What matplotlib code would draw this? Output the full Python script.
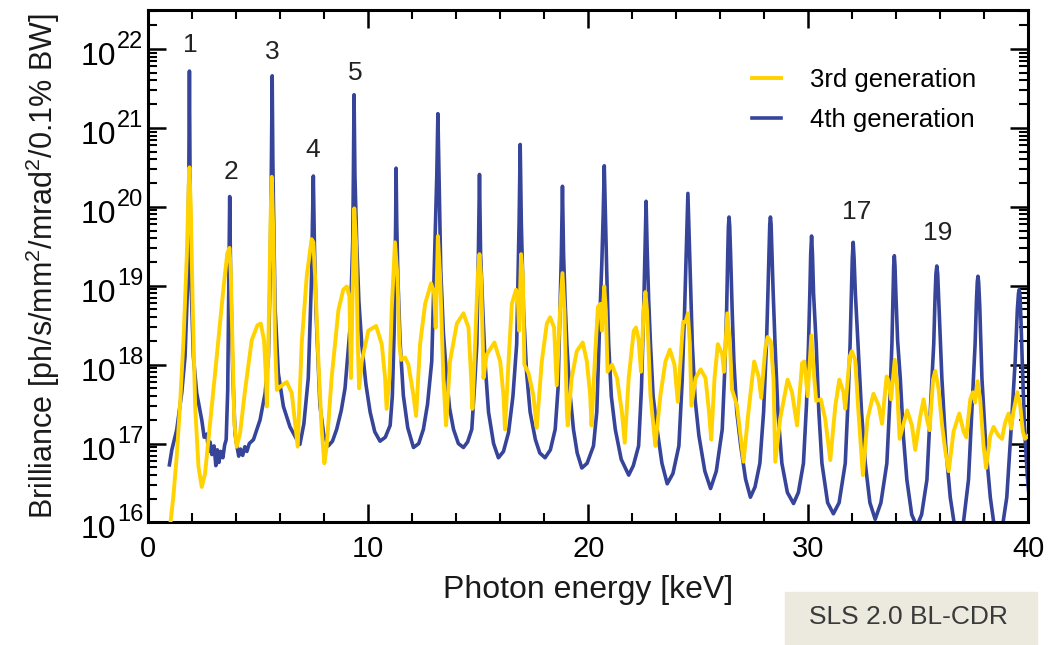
import numpy as np
import matplotlib
matplotlib.use('Agg')
import matplotlib.pyplot as plt
from matplotlib.ticker import MultipleLocator, LogLocator, NullFormatter
from matplotlib.patches import Rectangle
from matplotlib.transforms import blended_transform_factory, offset_copy

# (photon energy in keV, log10 of brilliance)
gen4_points = [
    (0.97, 16.73), (1.08, 16.92), (1.30, 17.17), (1.53, 17.64), (1.68, 18.10), (1.79, 18.95),
    (1.85, 20.30), (1.88, 21.72), (1.91, 20.30), (1.94, 19.16), (2.06, 18.10), (2.21, 17.64),
    (2.44, 17.30), (2.55, 17.08), (2.67, 17.12), (2.75, 16.90), (2.82, 17.02), (2.90, 16.86),
    (3.00, 16.97), (3.08, 16.72), (3.15, 16.92), (3.22, 16.76), (3.30, 16.90), (3.40, 16.82),
    (3.48, 16.98), (3.55, 17.05), (3.62, 17.68), (3.67, 19.00), (3.71, 20.13), (3.75, 19.16),
    (3.85, 17.89), (3.95, 17.13), (4.05, 16.95), (4.12, 16.84), (4.20, 16.93), (4.30, 16.85),
    (4.40, 16.96), (4.49, 16.90), (4.60, 17.00), (4.79, 17.05), (5.09, 17.30), (5.32, 17.64),
    (5.47, 18.10), (5.55, 19.16), (5.60, 20.40), (5.64, 21.66), (5.67, 20.60), (5.70, 20.00),
    (5.77, 18.73), (5.92, 17.89), (6.15, 17.47), (6.45, 17.21), (6.76, 17.05), (6.90, 16.99),
    (7.08, 17.25), (7.28, 17.83), (7.43, 19.12), (7.47, 19.80), (7.51, 20.39), (7.56, 19.50),
    (7.63, 18.69), (7.81, 17.48), (7.98, 17.12), (8.19, 16.97), (8.38, 17.03), (8.57, 17.18),
    (8.78, 17.42), (8.95, 17.70), (9.18, 18.47), (9.30, 19.55), (9.33, 20.40), (9.36, 21.42),
    (9.40, 20.40), (9.48, 19.55), (9.58, 18.80), (9.71, 18.26), (9.90, 17.75), (10.09, 17.40),
    (10.30, 17.15), (10.54, 17.03), (10.78, 17.08), (11.00, 17.23), (11.10, 17.60), (11.18, 18.40),
    (11.22, 19.12), (11.25, 19.80), (11.27, 20.49), (11.30, 19.80), (11.35, 19.12), (11.45, 18.30),
    (11.60, 17.61), (11.80, 17.20), (12.06, 16.95), (12.30, 17.00), (12.51, 17.18), (12.70, 17.50),
    (12.89, 18.04), (13.04, 19.55), (13.12, 20.40), (13.17, 21.18), (13.22, 20.40), (13.30, 19.20),
    (13.42, 18.40), (13.57, 17.83), (13.70, 17.45), (13.88, 17.18), (14.10, 17.00), (14.33, 16.95),
    (14.52, 17.02), (14.71, 17.18), (14.85, 17.80), (14.94, 18.26), (15.01, 19.40), (15.06, 20.41),
    (15.11, 19.40), (15.21, 18.69), (15.32, 18.00), (15.47, 17.40), (15.70, 17.00), (15.92, 16.82),
    (16.15, 16.90), (16.38, 17.14), (16.58, 17.60), (16.75, 18.26), (16.86, 19.80), (16.91, 20.79),
    (16.96, 19.80), (17.06, 18.69), (17.20, 17.90), (17.36, 17.40), (17.60, 17.05), (17.80, 16.88),
    (18.04, 16.82), (18.28, 16.92), (18.50, 17.18), (18.63, 17.70), (18.72, 18.69), (18.78, 19.40),
    (18.83, 20.26), (18.88, 19.40), (18.95, 18.80), (19.03, 18.26), (19.15, 17.70), (19.33, 17.18),
    (19.50, 16.88), (19.71, 16.69), (19.95, 16.75), (20.24, 16.97), (20.39, 17.40), (20.54, 18.69),
    (20.62, 19.30), (20.68, 19.90), (20.73, 20.52), (20.78, 19.90), (20.84, 19.20), (20.93, 18.26),
    (21.05, 17.60), (21.23, 17.18), (21.50, 16.80), (21.84, 16.60), (22.05, 16.72), (22.29, 16.97),
    (22.42, 17.70), (22.52, 18.69), (22.58, 19.45), (22.63, 20.07), (22.68, 19.45), (22.75, 18.80),
    (22.83, 18.26), (22.95, 17.60), (23.13, 17.18), (23.35, 16.75), (23.59, 16.49), (23.85, 16.62),
    (24.12, 16.97), (24.27, 17.80), (24.38, 18.69), (24.46, 19.50), (24.53, 20.17), (24.60, 19.50),
    (24.66, 18.90), (24.73, 18.26), (24.86, 17.55), (25.03, 17.10), (25.30, 16.65), (25.56, 16.43),
    (25.82, 16.65), (26.09, 17.18), (26.20, 17.90), (26.29, 18.69), (26.34, 19.40), (26.37, 19.75),
    (26.40, 19.87), (26.43, 19.75), (26.47, 19.40), (26.54, 18.70), (26.62, 18.04), (26.75, 17.40),
    (26.93, 16.97), (27.15, 16.55), (27.37, 16.32), (27.58, 16.45), (27.80, 16.75), (27.97, 17.40),
    (28.10, 18.26), (28.17, 18.95), (28.22, 19.50), (28.25, 19.78), (28.28, 19.87), (28.31, 19.78),
    (28.34, 19.50), (28.40, 18.95), (28.49, 18.26), (28.62, 17.40), (28.80, 16.75), (29.05, 16.38),
    (29.33, 16.24), (29.55, 16.38), (29.78, 16.75), (29.92, 17.50), (30.01, 18.26), (30.07, 18.90),
    (30.11, 19.40), (30.15, 19.63), (30.19, 19.40), (30.24, 18.90), (30.36, 18.26), (30.48, 17.40),
    (30.62, 16.75), (30.88, 16.25), (31.14, 16.11), (31.40, 16.25), (31.68, 16.75), (31.80, 17.50),
    (31.90, 18.26), (31.96, 18.90), (32.00, 19.35), (32.04, 19.55), (32.08, 19.35), (32.14, 18.90),
    (32.26, 18.26), (32.42, 17.40), (32.59, 16.75), (32.80, 16.25), (33.04, 16.04), (33.30, 16.25),
    (33.57, 16.75), (33.70, 17.50), (33.80, 18.26), (33.85, 18.90), (33.88, 19.25), (33.91, 19.38),
    (33.94, 19.25), (33.98, 18.90), (34.06, 18.30), (34.18, 17.83), (34.32, 17.10), (34.48, 16.54),
    (34.70, 16.10), (34.93, 15.95), (35.15, 16.10), (35.39, 16.54), (35.56, 17.50), (35.70, 18.26),
    (35.76, 18.85), (35.80, 19.15), (35.84, 19.25), (35.88, 19.15), (35.93, 18.80), (36.07, 17.83),
    (36.25, 16.95), (36.45, 16.32), (36.65, 15.95), (36.83, 15.85), (37.05, 16.00), (37.28, 16.54),
    (37.45, 17.50), (37.58, 18.26), (37.64, 18.80), (37.68, 19.05), (37.71, 19.12), (37.74, 19.05),
    (37.79, 18.75), (37.89, 17.83), (38.07, 16.95), (38.27, 16.32), (38.45, 15.95), (38.65, 15.85),
    (38.85, 16.00), (39.02, 16.32), (39.22, 17.20), (39.40, 18.04), (39.50, 18.70), (39.55, 18.90),
    (39.58, 18.95), (39.62, 18.88), (39.66, 18.60), (39.72, 18.06), (39.82, 17.23), (39.95, 16.60),
    (40.10, 16.10),
]

gen3_points = [
    (0.95, 15.80), (1.00, 15.95), (1.15, 16.33), (1.30, 16.83), (1.45, 17.47), (1.61, 18.31),
    (1.76, 19.37), (1.84, 20.20), (1.88, 20.50), (1.94, 20.00), (2.03, 18.73), (2.14, 17.47),
    (2.29, 16.71), (2.44, 16.45), (2.59, 16.62), (2.82, 17.26), (3.12, 18.10), (3.42, 18.95),
    (3.60, 19.41), (3.70, 19.48), (3.76, 19.16), (3.85, 18.10), (3.92, 17.26), (4.03, 16.96),
    (4.18, 17.13), (4.41, 17.68), (4.71, 18.31), (4.97, 18.50), (5.12, 18.52), (5.27, 18.31),
    (5.35, 17.89), (5.40, 17.47), (5.47, 18.31), (5.58, 20.00), (5.62, 20.38), (5.70, 19.58),
    (5.77, 18.31), (5.85, 17.68), (6.00, 17.72), (6.30, 17.78), (6.53, 17.64), (6.68, 17.26),
    (6.80, 16.96), (6.98, 18.26), (7.21, 19.12), (7.43, 19.59), (7.51, 19.55), (7.59, 19.12),
    (7.74, 18.04), (7.89, 17.18), (8.01, 16.75), (8.12, 16.97), (8.34, 17.83), (8.65, 18.69),
    (8.87, 18.95), (9.03, 18.99), (9.15, 18.86), (9.22, 17.83), (9.37, 19.98), (9.45, 19.55),
    (9.53, 18.26), (9.59, 17.70), (9.71, 18.04), (10.01, 18.43), (10.36, 18.49), (10.62, 18.26),
    (10.77, 17.83), (10.84, 17.44), (10.97, 17.83), (11.07, 18.69), (11.22, 19.55), (11.33, 19.12),
    (11.42, 18.26), (11.50, 18.06), (11.68, 18.09), (11.83, 18.00), (12.06, 17.61), (12.18, 17.35),
    (12.36, 18.26), (12.59, 18.77), (12.86, 19.03), (13.00, 18.90), (13.07, 18.47), (13.17, 19.63),
    (13.27, 19.12), (13.42, 17.83), (13.54, 17.23), (13.72, 18.04), (14.03, 18.52), (14.33, 18.65),
    (14.56, 18.47), (14.68, 17.83), (14.74, 17.44), (14.86, 18.26), (14.98, 19.12), (15.06, 19.40),
    (15.13, 19.12), (15.21, 18.26), (15.24, 17.83), (15.39, 18.13), (15.74, 18.28), (16.00, 18.04),
    (16.15, 17.61), (16.22, 17.18), (16.38, 18.04), (16.53, 18.77), (16.72, 18.95), (16.80, 18.86),
    (16.86, 18.43), (16.95, 19.40), (17.03, 19.12), (17.10, 18.00), (17.29, 17.89), (17.51, 17.61),
    (17.66, 17.20), (17.89, 18.04), (18.12, 18.52), (18.27, 18.60), (18.45, 18.47), (18.57, 17.74),
    (18.72, 18.69), (18.83, 19.16), (18.92, 18.69), (19.03, 17.40), (19.07, 17.23), (19.25, 17.83),
    (19.48, 18.17), (19.75, 18.28), (19.94, 18.04), (20.09, 17.61), (20.15, 17.23), (20.32, 18.15),
    (20.44, 18.73), (20.55, 18.77), (20.62, 18.43), (20.73, 18.99), (20.80, 18.69), (20.88, 17.91),
    (21.08, 18.00), (21.31, 17.83), (21.53, 17.40), (21.66, 17.01), (21.84, 17.83), (22.07, 18.43),
    (22.17, 18.47), (22.29, 18.32), (22.40, 17.91), (22.52, 18.69), (22.60, 18.92), (22.67, 18.69),
    (22.83, 17.61), (23.05, 16.97), (23.28, 17.61), (23.51, 18.04), (23.71, 18.19), (23.92, 18.00),
    (24.07, 17.53), (24.19, 18.04), (24.31, 18.54), (24.42, 18.54), (24.53, 18.65), (24.62, 18.26),
    (24.69, 17.48), (24.88, 17.83), (25.11, 17.94), (25.33, 17.83), (25.49, 17.40), (25.59, 17.05),
    (25.74, 17.83), (25.89, 18.26), (26.09, 18.13), (26.17, 17.91), (26.32, 18.65), (26.44, 18.26),
    (26.53, 17.69), (26.76, 17.48), (27.06, 16.77), (27.28, 17.40), (27.54, 18.04), (27.74, 17.85),
    (27.86, 17.58), (28.04, 18.19), (28.15, 18.35), (28.30, 18.29), (28.42, 17.81), (28.50, 16.77),
    (28.72, 17.31), (29.06, 17.81), (29.26, 17.65), (29.49, 17.23), (29.72, 18.02), (29.82, 18.04),
    (29.97, 17.60), (30.14, 18.37), (30.24, 17.94), (30.36, 17.54), (30.57, 17.56), (30.77, 17.31),
    (31.00, 16.79), (31.23, 17.48), (31.41, 17.81), (31.60, 17.65), (31.68, 17.44), (31.88, 18.10),
    (31.98, 18.17), (32.13, 18.06), (32.28, 17.40), (32.48, 16.60), (32.69, 17.31), (32.96, 17.63),
    (33.20, 17.48), (33.35, 17.25), (33.56, 17.85), (33.64, 17.80), (33.76, 17.56), (33.93, 18.06),
    (34.03, 17.73), (34.15, 17.06), (34.49, 17.42), (34.71, 17.23), (34.86, 16.92), (35.09, 17.35),
    (35.24, 17.56), (35.39, 17.31), (35.51, 17.17), (35.67, 17.81), (35.77, 17.92), (35.92, 17.69),
    (36.08, 17.23), (36.23, 16.90), (36.38, 16.65), (36.60, 17.15), (36.86, 17.38), (37.06, 17.15),
    (37.18, 17.08), (37.36, 17.56), (37.48, 17.65), (37.58, 17.52), (37.69, 17.79), (37.81, 17.56),
    (37.96, 16.98), (38.08, 16.69), (38.27, 17.10), (38.42, 17.21), (38.64, 17.10), (38.80, 17.06),
    (38.95, 17.27), (39.10, 17.38), (39.22, 17.19), (39.32, 17.40), (39.50, 17.65), (39.63, 17.48),
    (39.75, 17.15), (39.85, 17.06), (40.00, 17.10),
]

# harmonic numbers written above some peaks: label, keV, log10 position
harm_labels = ['1', '2', '3', '4', '5', '17', '19']
harm_kev = [1.91, 3.77, 5.64, 7.50, 9.41, 32.18, 35.90]
harm_log = [22.05, 20.44, 21.96, 20.72, 21.70, 19.94, 19.67]

decades = [16, 17, 18, 19, 20, 21, 22]

plt.rcParams['font.family'] = ['Liberation Sans', 'DejaVu Sans']
plt.rcParams['mathtext.fontset'] = 'custom'
plt.rcParams['mathtext.rm'] = 'Liberation Sans'
plt.rcParams['mathtext.it'] = 'Liberation Sans:italic'
plt.rcParams['mathtext.default'] = 'regular'

fig = plt.figure(figsize=(10.53, 6.45), dpi=100)
ax = fig.add_axes([0.1406, 0.19, 0.836, 0.7946])

e4, l4 = zip(*gen4_points)
e3, l3 = zip(*gen3_points)

line4, = ax.plot(e4, 10 ** np.array(l4), color='#36449a', lw=2.6,
                 solid_joinstyle='round', label='4th generation', zorder=2)
line3, = ax.plot(e3, 10 ** np.array(l3), color='#ffd200', lw=2.8,
                 solid_joinstyle='round', label='3rd generation', zorder=3)

ax.set_yscale('log')
ax.set_xlim(0, 40)
ax.set_ylim(1e16, 10 ** 22.495)

ax.xaxis.set_major_locator(MultipleLocator(10))
ax.xaxis.set_minor_locator(MultipleLocator(2))
ax.yaxis.set_major_locator(LogLocator(base=10, numticks=20))
ax.yaxis.set_minor_locator(LogLocator(base=10, subs=np.arange(2, 10), numticks=20))
ax.yaxis.set_minor_formatter(NullFormatter())

ax.tick_params(which='both', direction='in', top=True, right=True, colors='black')
ax.tick_params(which='major', length=13, width=1.8, labelsize=21)
ax.tick_params(which='minor', length=6.5, width=1.5)
ax.tick_params(axis='x', pad=9)
ax.tick_params(axis='y', labelleft=False)
for s in ax.spines.values():
    s.set_linewidth(2.2)

# y tick labels drawn by hand so the exponent can be a bit larger
ytrans = blended_transform_factory(ax.transAxes, ax.transData)
base_tr = offset_copy(ytrans, fig=fig, x=0, y=-16, units='dots')
exp_tr = offset_copy(ytrans, fig=fig, x=1, y=1, units='dots')
for d in decades:
    ax.text(-0.0365, 10.0 ** d, '10', transform=base_tr, ha='right', va='baseline',
            fontsize=23, clip_on=False)
    ax.text(-0.0365, 10.0 ** d, str(d), transform=exp_tr, ha='left', va='baseline',
            fontsize=17, clip_on=False)

ax.set_xlabel('Photon energy [keV]', fontsize=23, color='#1a1a1a', labelpad=9)
ax.set_ylabel(r'Brilliance [ph/s/mm$^2$/mrad$^2$/0.1% BW]', fontsize=22, color='#1a1a1a')
ax.yaxis.set_label_coords(-0.098, 0.5)

for s, x, y in zip(harm_labels, harm_kev, harm_log):
    ax.text(x, 10 ** y, s, ha='center', va='center', fontsize=19, color='#222222')

ax.legend(handles=[line3, line4], loc='upper left', bbox_to_anchor=(0.686, 0.887),
          frameon=False, fontsize=18.5, handlelength=1.15, handletextpad=1.1,
          labelspacing=0.62, borderpad=0, borderaxespad=0)

# badge in the lower right corner
fig.patches.append(Rectangle((785 / 1053, 0), 252 / 1053, 53 / 645,
                             transform=fig.transFigure, color='#ece9df', zorder=0))
fig.text(908 / 1053, 1 - 617 / 645, 'SLS 2.0 BL-CDR', ha='center', va='center',
         fontsize=19, color='#3a3a3a')

fig.savefig('out.png', dpi=100)
